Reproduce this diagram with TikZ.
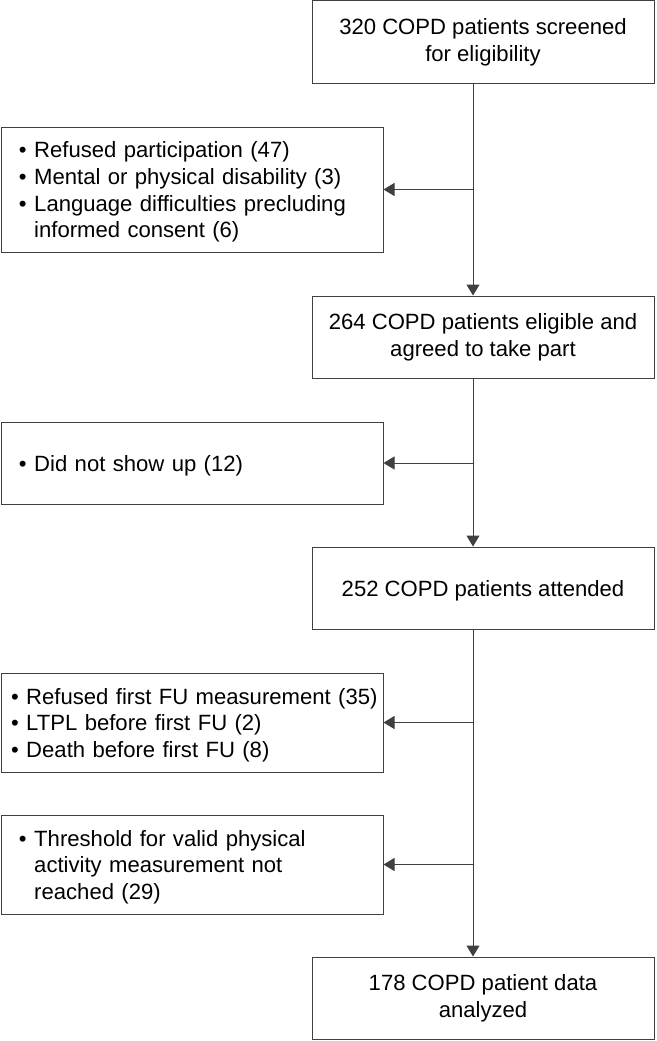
\documentclass[tikz,border=0pt]{standalone}
\usepackage{fontspec}
\setmainfont{Liberation Sans}
\usepackage{tikz}
\usetikzlibrary{arrows.meta, positioning, calc}
\tikzset{every picture/.style={font issue=\fontsize{22.1}{26.6}},
         font issue/.style={execute at begin picture={#1\selectfont}}
        }
\tikzset{
  flowline/.style={draw=black!75, line width=1pt},
  flowarrow/.style={flowline, -{Triangle[length=11pt,width=13pt]}},
  mainbox/.style={flowline, minimum width=342pt, minimum height=82pt,
                  inner sep=0pt, align=center,
                  execute at begin node={\rule{0pt}{21pt}}},
  outbox/.style={flowline, text width=346pt, inner xsep=18pt, inner ysep=0pt,
                 align=left, execute at begin node={\rule{0pt}{21pt}}}
}
\newcommand{\bul}{\textbullet\hspace{7.5pt}}
\newcommand{\cont}{\hphantom{\bul}}

\begin{document}
\begin{tikzpicture}[x=1pt, y=-1pt]
\useasboundingbox (0,0) rectangle (656,1041);

%main column
\node[mainbox] (screened) at (483,42) {320 COPD patients screened\\for eligibility};
\node[mainbox] (eligible) at (483,337) {264 COPD patients eligible and\\agreed to take part};
\node[mainbox] (attended) at (483,588) {252 COPD patients attended};
\node[mainbox] (analyzed) at (483,998) {178 COPD patient data\\analyzed};

%exclusions
\node[outbox, minimum height=125pt] (excl1) at (192,189.5)
  {\bul Refused participation (47)\\
   \bul Mental or physical disability (3)\\
   \bul Language difficulties precluding\\
   \cont informed consent (6)};
\node[outbox, minimum height=82pt] (excl2) at (192,463)
  {\bul Did not show up (12)};
\node[outbox, minimum height=99pt, text width=362pt, inner xsep=10pt] (excl3) at (192,722.5)
  {\mbox{\bul Refused first FU measurement (35)}\\
   \bul LTPL before first FU (2)\\
   \bul Death before first FU (8)};
\node[outbox, minimum height=99pt] (excl4) at (192,864.5)
  {\bul Threshold for valid physical\\
   \cont activity measurement not\\
   \cont reached (29)};

\coordinate (spine) at (473,0);

\draw[flowarrow] (screened.south -| spine) -- (eligible.north -| spine);
\draw[flowarrow] (eligible.south -| spine) -- (attended.north -| spine);
\draw[flowarrow] (attended.south -| spine) -- (analyzed.north -| spine);

\draw[flowarrow] (excl1.east -| spine) -- (excl1.east);
\draw[flowarrow] (excl2.east -| spine) -- (excl2.east);
\draw[flowarrow] (excl3.east -| spine) -- (excl3.east);
\draw[flowarrow] (excl4.east -| spine) -- (excl4.east);

\end{tikzpicture}
\end{document}
